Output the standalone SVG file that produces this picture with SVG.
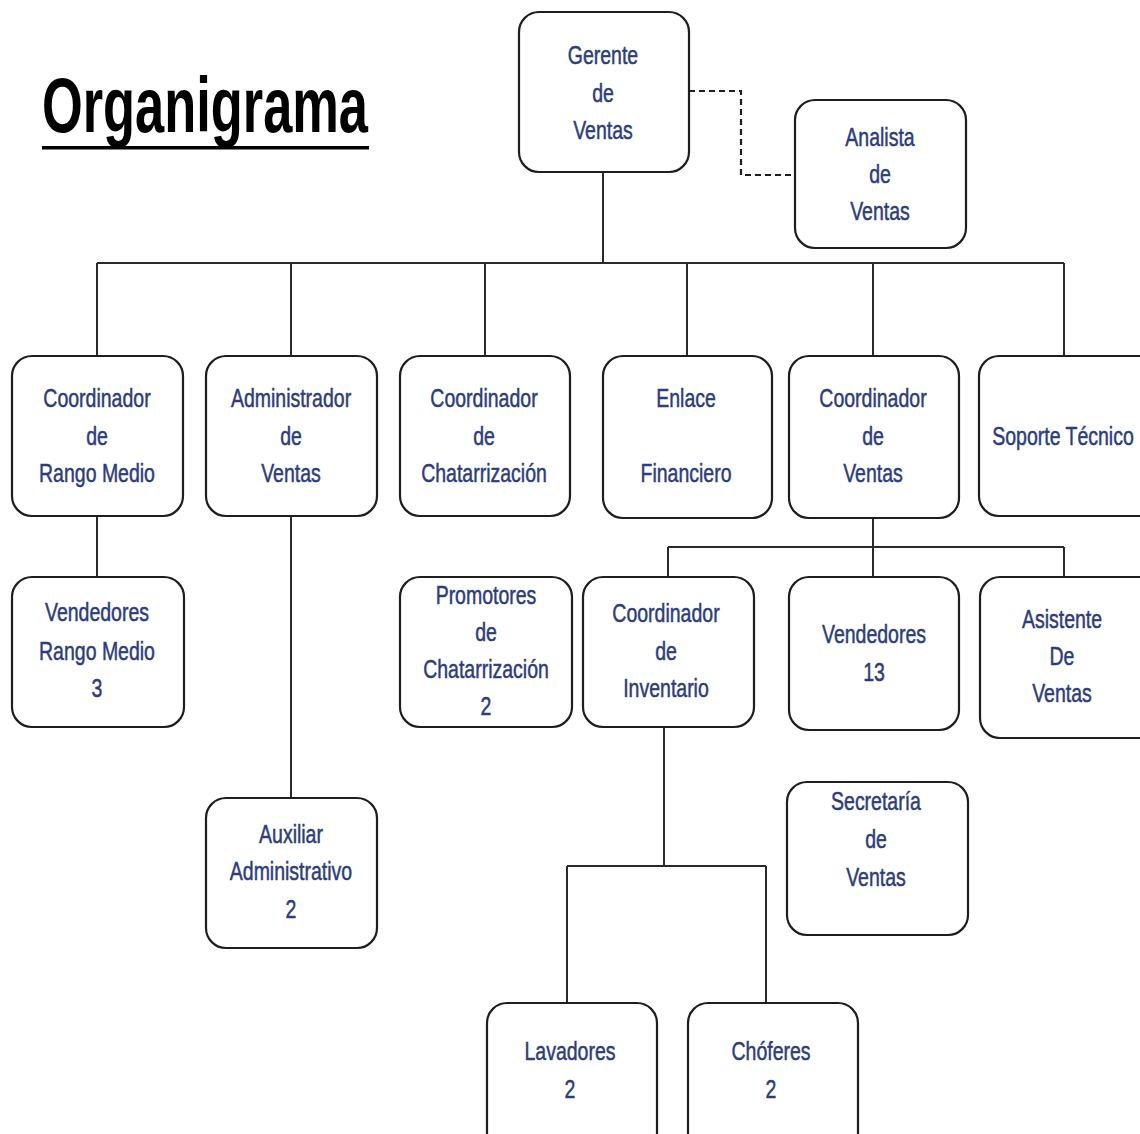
<svg xmlns="http://www.w3.org/2000/svg" width="1140" height="1134" viewBox="0 0 1140 1134">
  <style>
    .box { fill: #ffffff; stroke: #1e1e1e; stroke-width: 2.2; }
    .lbl { font-family: "Liberation Sans", Arial, sans-serif; font-size: 26px; fill: #2c3d7c; stroke: #2c3d7c; stroke-width: 0.5; text-anchor: middle; }
    .wire { fill: none; stroke: #2a2a2a; stroke-width: 2; }
    .dash { fill: none; stroke: #1e1e1e; stroke-width: 2.2; stroke-dasharray: 6 4; }
  </style>
  <rect width="1140" height="1134" fill="#ffffff"/>

  <!-- title -->
  <g id="title">
    <text x="42" y="132" font-family="Liberation Sans, Arial, sans-serif" font-weight="bold" font-size="78" fill="#000" textLength="326" lengthAdjust="spacingAndGlyphs">Organigrama</text>
    <rect x="42" y="146" width="327" height="3.5" fill="#000"/>
  </g>

  <!-- connectors -->
  <g id="connectors">
    <path class="dash" d="M689 91 H741 V175 H795"/>
    <path class="wire" d="M603 172 V263"/>
    <path class="wire" d="M97 263 H1064"/>
    <path class="wire" d="M97 263 V356 M291 263 V356 M485 263 V356 M687 263 V356 M873 263 V356 M1064 263 V356"/>
    <path class="wire" d="M97 516 V577"/>
    <path class="wire" d="M291 516 V798"/>
    <path class="wire" d="M873 518 V547 M668 547 H1064 M668 547 V577 M873 547 V577 M1064 547 V577"/>
    <path class="wire" d="M664 727 V866 M567 866 H766 M567 866 V1003 M766 866 V1003"/>
  </g>

  <g id="gerente">
    <rect class="box" x="519" y="12" width="170" height="160" rx="20"/>
    <g transform="translate(603 0) scale(0.75 1)">
      <text class="lbl" x="0" y="64">Gerente</text>
      <text class="lbl" x="0" y="102">de</text>
      <text class="lbl" x="0" y="139">Ventas</text>
    </g>
  </g>

  <g id="analista">
    <rect class="box" x="795" y="100" width="171" height="148" rx="20"/>
    <g transform="translate(880 0) scale(0.75 1)">
      <text class="lbl" x="0" y="146">Analista</text>
      <text class="lbl" x="0" y="183">de</text>
      <text class="lbl" x="0" y="220">Ventas</text>
    </g>
  </g>

  <g id="coord-rango-medio">
    <rect class="box" x="12" y="356" width="171" height="160" rx="20"/>
    <g transform="translate(97 0) scale(0.75 1)">
      <text class="lbl" x="0" y="407">Coordinador</text>
      <text class="lbl" x="0" y="445">de</text>
      <text class="lbl" x="0" y="482">Rango  Medio</text>
    </g>
  </g>

  <g id="admin-ventas">
    <rect class="box" x="206" y="356" width="171" height="160" rx="20"/>
    <g transform="translate(291 0) scale(0.75 1)">
      <text class="lbl" x="0" y="407">Administrador</text>
      <text class="lbl" x="0" y="445">de</text>
      <text class="lbl" x="0" y="482">Ventas</text>
    </g>
  </g>

  <g id="coord-chatarrizacion">
    <rect class="box" x="400" y="356" width="170" height="160" rx="20"/>
    <g transform="translate(484 0) scale(0.75 1)">
      <text class="lbl" x="0" y="407">Coordinador</text>
      <text class="lbl" x="0" y="445">de</text>
      <text class="lbl" x="0" y="482">Chatarrización</text>
    </g>
  </g>

  <g id="enlace-financiero">
    <rect class="box" x="603" y="356" width="169" height="162" rx="20"/>
    <g transform="translate(686 0) scale(0.75 1)">
      <text class="lbl" x="0" y="407">Enlace</text>
      <text class="lbl" x="0" y="482">Financiero</text>
    </g>
  </g>

  <g id="coord-ventas">
    <rect class="box" x="789" y="356" width="170" height="162" rx="20"/>
    <g transform="translate(873 0) scale(0.75 1)">
      <text class="lbl" x="0" y="407">Coordinador</text>
      <text class="lbl" x="0" y="445">de</text>
      <text class="lbl" x="0" y="482">Ventas</text>
    </g>
  </g>

  <g id="soporte-tecnico">
    <rect class="box" x="979" y="356" width="180" height="160" rx="20"/>
    <g transform="translate(1063 0) scale(0.75 1)">
      <text class="lbl" x="0" y="445">Soporte Técnico</text>
    </g>
  </g>

  <g id="vendedores-rango-medio">
    <rect class="box" x="12" y="577" width="172" height="150" rx="20"/>
    <g transform="translate(97 0) scale(0.75 1)">
      <text class="lbl" x="0" y="621">Vendedores</text>
      <text class="lbl" x="0" y="660">Rango  Medio</text>
      <text class="lbl" x="0" y="697">3</text>
    </g>
  </g>

  <g id="auxiliar-admin">
    <rect class="box" x="206" y="798" width="171" height="150" rx="20"/>
    <g transform="translate(291 0) scale(0.75 1)">
      <text class="lbl" x="0" y="843">Auxiliar</text>
      <text class="lbl" x="0" y="880">Administrativo</text>
      <text class="lbl" x="0" y="918">2</text>
    </g>
  </g>

  <g id="promotores">
    <rect class="box" x="400" y="577" width="172" height="150" rx="20"/>
    <g transform="translate(486 0) scale(0.75 1)">
      <text class="lbl" x="0" y="604">Promotores</text>
      <text class="lbl" x="0" y="641">de</text>
      <text class="lbl" x="0" y="678">Chatarrización</text>
      <text class="lbl" x="0" y="715">2</text>
    </g>
  </g>

  <g id="coord-inventario">
    <rect class="box" x="583" y="577" width="171" height="150" rx="20"/>
    <g transform="translate(666 0) scale(0.75 1)">
      <text class="lbl" x="0" y="622">Coordinador</text>
      <text class="lbl" x="0" y="660">de</text>
      <text class="lbl" x="0" y="697">Inventario</text>
    </g>
  </g>

  <g id="vendedores-13">
    <rect class="box" x="789" y="577" width="170" height="153" rx="20"/>
    <g transform="translate(874 0) scale(0.75 1)">
      <text class="lbl" x="0" y="643">Vendedores</text>
      <text class="lbl" x="0" y="681">13</text>
    </g>
  </g>

  <g id="asistente-ventas">
    <rect class="box" x="980" y="577" width="180" height="161" rx="20"/>
    <g transform="translate(1062 0) scale(0.75 1)">
      <text class="lbl" x="0" y="628">Asistente</text>
      <text class="lbl" x="0" y="665">De</text>
      <text class="lbl" x="0" y="702">Ventas</text>
    </g>
  </g>

  <g id="secretaria-ventas">
    <rect class="box" x="787" y="782" width="181" height="153" rx="20"/>
    <g transform="translate(876 0) scale(0.75 1)">
      <text class="lbl" x="0" y="810">Secretaría</text>
      <text class="lbl" x="0" y="848">de</text>
      <text class="lbl" x="0" y="886">Ventas</text>
    </g>
  </g>

  <g id="lavadores">
    <rect class="box" x="487" y="1003" width="170" height="160" rx="20"/>
    <g transform="translate(570 0) scale(0.75 1)">
      <text class="lbl" x="0" y="1060">Lavadores</text>
      <text class="lbl" x="0" y="1098">2</text>
    </g>
  </g>

  <g id="choferes">
    <rect class="box" x="688" y="1003" width="170" height="160" rx="20"/>
    <g transform="translate(771 0) scale(0.75 1)">
      <text class="lbl" x="0" y="1060">Chóferes</text>
      <text class="lbl" x="0" y="1098">2</text>
    </g>
  </g>
</svg>
